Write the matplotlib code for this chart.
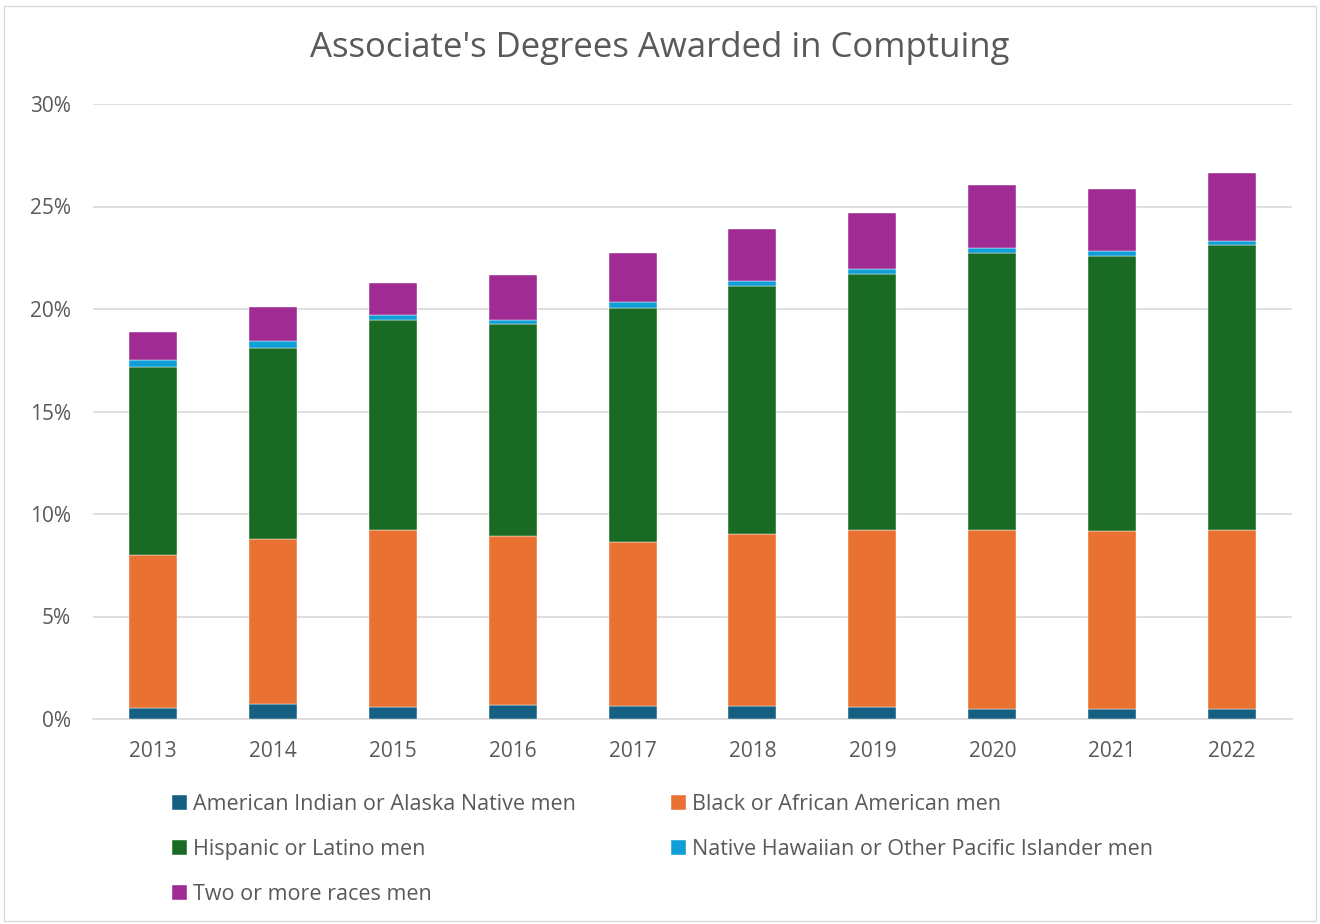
import matplotlib
matplotlib.use("Agg")
import matplotlib.pyplot as plt
from matplotlib.patches import Rectangle
from matplotlib.ticker import FuncFormatter

years = ["2013", "2014", "2015", "2016", "2017", "2018", "2019", "2020", "2021", "2022"]
aian = [0.56, 0.73, 0.57, 0.68, 0.65, 0.63, 0.57, 0.47, 0.47, 0.47]
black = [7.44, 8.05, 8.65, 8.23, 7.97, 8.41, 8.63, 8.75, 8.69, 8.73]
hispanic = [9.17, 9.32, 10.23, 10.36, 11.43, 12.08, 12.53, 13.51, 13.41, 13.91]
nhpi = [0.36, 0.32, 0.26, 0.19, 0.31, 0.25, 0.22, 0.23, 0.24, 0.19]
two_more = [1.33, 1.66, 1.54, 2.20, 2.39, 2.52, 2.73, 3.07, 3.04, 3.35]

series = [
    ("American Indian or Alaska Native men", aian, "#156082"),
    ("Black or African American men", black, "#E97132"),
    ("Hispanic or Latino men", hispanic, "#196B24"),
    ("Native Hawaiian or Other Pacific Islander men", nhpi, "#0F9ED5"),
    ("Two or more races men", two_more, "#A02B93"),
]

plt.rcParams['font.family'] = ['Open Sans', 'DejaVu Sans']
fig = plt.figure(figsize=(13.2, 9.24), dpi=100)
fig.patches.append(Rectangle((0.003, 0.003), 0.994, 0.991, transform=fig.transFigure,
                             fill=False, edgecolor="#D9D9D9", linewidth=1.0))
ax = fig.add_axes([93/1320, 1 - 719/924, (1292 - 93)/1320, (719 - 104)/924])

x = list(range(len(years)))
bottom = [0.0] * len(years)
handles = []
for name, vals, col in series:
    h = ax.bar(x, vals, width=0.4, bottom=bottom, color=col, label=name,
               edgecolor="white", linewidth=0.3, zorder=3)
    handles.append(h)
    bottom = [b + v for b, v in zip(bottom, vals)]

ax.set_xlim(-0.5, len(years) - 0.5)
ax.set_ylim(0, 30)
ax.set_yticks([0, 5, 10, 15, 20, 25, 30])
ax.yaxis.set_major_formatter(FuncFormatter(lambda v, p: f"{v:.0f}%"))
ax.set_xticks(x)
ax.set_xticklabels(years)
ax.grid(axis="y", color="#D9D9D9", linewidth=1.2, zorder=0)
for s in ["top", "right", "left"]:
    ax.spines[s].set_visible(False)
ax.spines["bottom"].set_color("#D9D9D9")
ax.spines["bottom"].set_linewidth(1.2)
ax.tick_params(axis="both", length=0, labelsize=15, labelcolor="#595959")
ax.tick_params(axis="x", pad=16)
ax.tick_params(axis="y", pad=16)

fig.text(0.5, 1 - 48/924, "Associate's Degrees Awarded in Comptuing", ha="center", va="center",
         fontsize=25, color="#595959")

order = [0, 2, 4, 1, 3]
leg = fig.legend(handles=[handles[i] for i in order], labels=[series[i][0] for i in order],
                 loc="upper left", bbox_to_anchor=(155/1320, 1 - 777/924),
                 ncol=2, frameon=False, fontsize=15.5, labelcolor="#595959",
                 handlelength=0.7, handleheight=0.7, handletextpad=0.25,
                 columnspacing=4.45, labelspacing=1.1, borderpad=0.3)

fig.savefig("out.png", dpi=100)
